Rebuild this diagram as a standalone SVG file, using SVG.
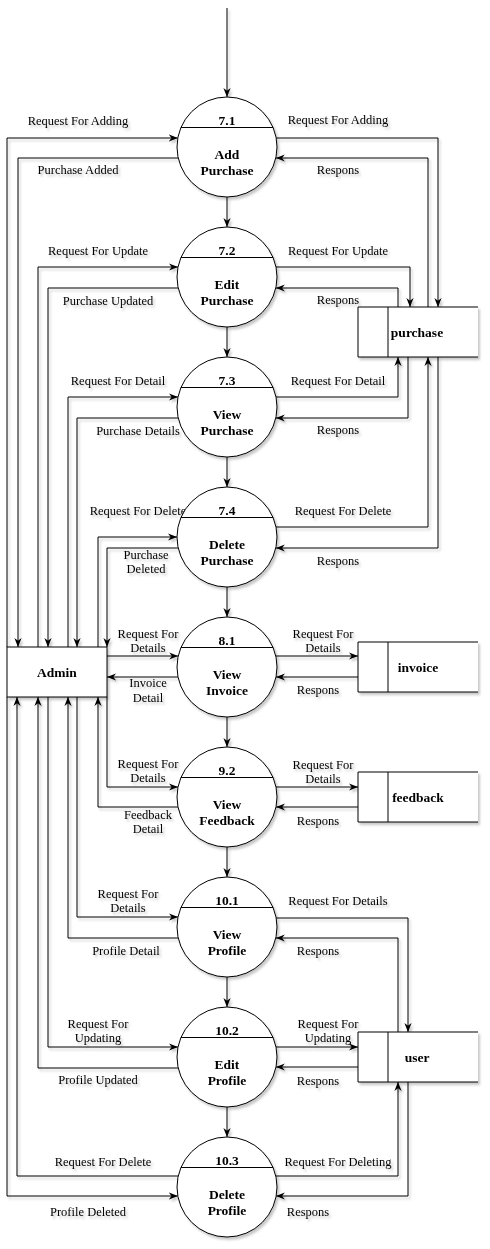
<svg xmlns="http://www.w3.org/2000/svg" width="490" height="1249" viewBox="0 0 490 1249">
<style>
.ln{fill:none;stroke:#000;stroke-width:1;marker-end:url(#a)}
.pl{fill:none;stroke:#000;stroke-width:1}
.cc{fill:#fff;stroke:#000;stroke-width:1}
.t{font-family:"Liberation Serif","Times New Roman",serif;font-size:12.5px;fill:#000;text-anchor:middle}
.b{font-family:"Liberation Serif","Times New Roman",serif;font-size:13.5px;font-weight:bold;fill:#000;text-anchor:middle}
</style>
<defs>
<marker id="a" viewBox="0 0 10 8" refX="10" refY="4" markerWidth="9" markerHeight="7.2" markerUnits="userSpaceOnUse" orient="auto">
<path d="M0,0 L10,4 L0,8 L3,4 Z" fill="#000"/>
</marker>
<filter id="sh" x="-5%" y="-5%" width="110%" height="110%">
<feDropShadow dx="2" dy="2.5" stdDeviation="1.2" flood-color="#000" flood-opacity="0.22"/>
</filter>
</defs>
<rect width="490" height="1249" fill="#fff"/>
<g filter="url(#sh)">
<g id="connectors">
<path class="ln" d="M227,8 V97"/>
<path class="ln" d="M227,197 V227"/>
<path class="ln" d="M227,327 V357"/>
<path class="ln" d="M227,457 V487"/>
<path class="ln" d="M227,587 V617"/>
<path class="ln" d="M227,717 V747"/>
<path class="ln" d="M227,847 V877"/>
<path class="ln" d="M227,977 V1007"/>
<path class="ln" d="M227,1107 V1137"/>
<!-- left side -->
<path class="ln" d="M7,647 V138 H177.8"/>
<path class="ln" d="M178.2,158 H18 V647"/>
<path class="ln" d="M38,647 V267 H178"/>
<path class="ln" d="M178.2,288 H48 V647"/>
<path class="ln" d="M68,647 V397 H178"/>
<path class="ln" d="M178.2,418 H77 V647"/>
<path class="ln" d="M98,647 V537 H177"/>
<path class="ln" d="M178.2,548 H107 V647"/>
<path class="ln" d="M107,656 H178.2"/>
<path class="ln" d="M178,677 H107"/>
<path class="ln" d="M107,697 V787 H178"/>
<path class="ln" d="M178,807 H98 V697"/>
<path class="ln" d="M77,697 V917 H178"/>
<path class="ln" d="M178.2,938 H68 V697"/>
<path class="ln" d="M48,697 V1047 H178"/>
<path class="ln" d="M178.2,1068 H38 V697"/>
<path class="ln" d="M178.2,1176 H17 V697"/>
<path class="ln" d="M7,697 V1196 H177.8"/>
<!-- right side -->
<path class="ln" d="M276.2,138 H438 V307"/>
<path class="ln" d="M428,307 V158 H275.8"/>
<path class="ln" d="M276,267 H410 V307"/>
<path class="ln" d="M398,307 V288 H275.8"/>
<path class="ln" d="M276,397 H398 V357"/>
<path class="ln" d="M408,357 V418 H275.8"/>
<path class="ln" d="M276,527 H428 V357"/>
<path class="ln" d="M438,357 V548 H275.8"/>
<path class="ln" d="M275.8,656 H358"/>
<path class="ln" d="M358,677 H276"/>
<path class="ln" d="M276,787 H358"/>
<path class="ln" d="M358,807 H276"/>
<path class="ln" d="M275.8,918 H408 V1032"/>
<path class="ln" d="M398,1032 V938 H275.8"/>
<path class="ln" d="M276,1047 H358"/>
<path class="ln" d="M358,1067 H275.8"/>
<path class="ln" d="M275.8,1176 H398 V1082"/>
<path class="ln" d="M408,1082 V1196 H275.8"/>
</g>
<g id="labels">
<text class="t" x="78" y="125">Request For Adding</text>
<text class="t" x="78" y="174">Purchase Added</text>
<text class="t" x="98" y="255">Request For Update</text>
<text class="t" x="108" y="305">Purchase Updated</text>
<text class="t" x="118" y="385">Request For Detail</text>
<text class="t" x="138" y="435">Purchase Details</text>
<text class="t" x="138" y="515">Request For Delete</text>
<text class="t" x="146" y="559">Purchase</text>
<text class="t" x="146" y="573">Deleted</text>
<text class="t" x="148" y="638">Request For</text>
<text class="t" x="148" y="652">Details</text>
<text class="t" x="148" y="687">Invoice</text>
<text class="t" x="148" y="702">Detail</text>
<text class="t" x="148" y="768">Request For</text>
<text class="t" x="148" y="782">Details</text>
<text class="t" x="148" y="819">Feedback</text>
<text class="t" x="148" y="833">Detail</text>
<text class="t" x="128" y="898">Request For</text>
<text class="t" x="128" y="912">Details</text>
<text class="t" x="126" y="955">Profile Detail</text>
<text class="t" x="98" y="1028">Request For</text>
<text class="t" x="98" y="1042">Updating</text>
<text class="t" x="98" y="1084">Profile Updated</text>
<text class="t" x="103" y="1166">Request For Delete</text>
<text class="t" x="88" y="1216">Profile Deleted</text>
<text class="t" x="338" y="124">Request For Adding</text>
<text class="t" x="338" y="174">Respons</text>
<text class="t" x="338" y="255">Request For Update</text>
<text class="t" x="338" y="304">Respons</text>
<text class="t" x="338" y="385">Request For Detail</text>
<text class="t" x="338" y="434">Respons</text>
<text class="t" x="343" y="515">Request For Delete</text>
<text class="t" x="338" y="565">Respons</text>
<text class="t" x="323" y="638">Request For</text>
<text class="t" x="323" y="652">Details</text>
<text class="t" x="318" y="694">Respons</text>
<text class="t" x="323" y="769">Request For</text>
<text class="t" x="323" y="783">Details</text>
<text class="t" x="318" y="825">Respons</text>
<text class="t" x="338" y="905">Request For Details</text>
<text class="t" x="318" y="955">Respons</text>
<text class="t" x="328" y="1028">Request For</text>
<text class="t" x="328" y="1042">Updating</text>
<text class="t" x="318" y="1085">Respons</text>
<text class="t" x="338" y="1166">Request For Deleting</text>
<text class="t" x="308" y="1216">Respons</text>
</g>
<g id="p71"><circle class="cc" cx="227" cy="147" r="50"/><line class="pl" x1="181" y1="127.5" x2="273" y2="127.5"/><text class="b" x="227" y="125">7.1</text><text class="b" x="227" y="159">Add</text><text class="b" x="227" y="175">Purchase</text></g>
<g id="p72"><circle class="cc" cx="227" cy="277" r="50"/><line class="pl" x1="181" y1="257.5" x2="273" y2="257.5"/><text class="b" x="227" y="255">7.2</text><text class="b" x="227" y="289">Edit</text><text class="b" x="227" y="305">Purchase</text></g>
<g id="p73"><circle class="cc" cx="227" cy="407" r="50"/><line class="pl" x1="181" y1="387.5" x2="273" y2="387.5"/><text class="b" x="227" y="385">7.3</text><text class="b" x="227" y="419">View</text><text class="b" x="227" y="435">Purchase</text></g>
<g id="p74"><circle class="cc" cx="227" cy="537" r="50"/><line class="pl" x1="181" y1="517.5" x2="273" y2="517.5"/><text class="b" x="227" y="515">7.4</text><text class="b" x="227" y="549">Delete</text><text class="b" x="227" y="565">Purchase</text></g>
<g id="p81"><circle class="cc" cx="227" cy="667" r="50"/><line class="pl" x1="181" y1="647.5" x2="273" y2="647.5"/><text class="b" x="227" y="645">8.1</text><text class="b" x="227" y="679">View</text><text class="b" x="227" y="695">Invoice</text></g>
<g id="p92"><circle class="cc" cx="227" cy="797" r="50"/><line class="pl" x1="181" y1="777.5" x2="273" y2="777.5"/><text class="b" x="227" y="775">9.2</text><text class="b" x="227" y="809">View</text><text class="b" x="227" y="825">Feedback</text></g>
<g id="p101"><circle class="cc" cx="227" cy="927" r="50"/><line class="pl" x1="181" y1="907.5" x2="273" y2="907.5"/><text class="b" x="227" y="905">10.1</text><text class="b" x="227" y="939">View</text><text class="b" x="227" y="955">Profile</text></g>
<g id="p102"><circle class="cc" cx="227" cy="1057" r="50"/><line class="pl" x1="181" y1="1037.5" x2="273" y2="1037.5"/><text class="b" x="227" y="1035">10.2</text><text class="b" x="227" y="1069">Edit</text><text class="b" x="227" y="1085">Profile</text></g>
<g id="p103"><circle class="cc" cx="227" cy="1187" r="50"/><line class="pl" x1="181" y1="1167.5" x2="273" y2="1167.5"/><text class="b" x="227" y="1165">10.3</text><text class="b" x="227" y="1199">Delete</text><text class="b" x="227" y="1215">Profile</text></g>
<g id="admin"><rect x="7" y="647" width="100" height="50" fill="#fff" stroke="#000" stroke-width="1"/><text class="b" x="57" y="677">Admin</text></g>
<g id="ds-purchase"><rect x="358" y="307" width="120" height="50" fill="#fff" stroke="none"/><path class="pl" d="M478,307 H358 V357 H478 M388,307 V357"/><text class="b" x="417" y="337">purchase</text></g>
<g id="ds-invoice"><rect x="358" y="642" width="120" height="50" fill="#fff" stroke="none"/><path class="pl" d="M478,642 H358 V692 H478 M388,642 V692"/><text class="b" x="418" y="672">invoice</text></g>
<g id="ds-feedback"><rect x="358" y="772" width="120" height="50" fill="#fff" stroke="none"/><path class="pl" d="M478,772 H358 V822 H478 M388,772 V822"/><text class="b" x="418" y="802">feedback</text></g>
<g id="ds-user"><rect x="358" y="1032" width="120" height="50" fill="#fff" stroke="none"/><path class="pl" d="M478,1032 H358 V1082 H478 M388,1032 V1082"/><text class="b" x="417" y="1062">user</text></g>
</g>
</svg>
